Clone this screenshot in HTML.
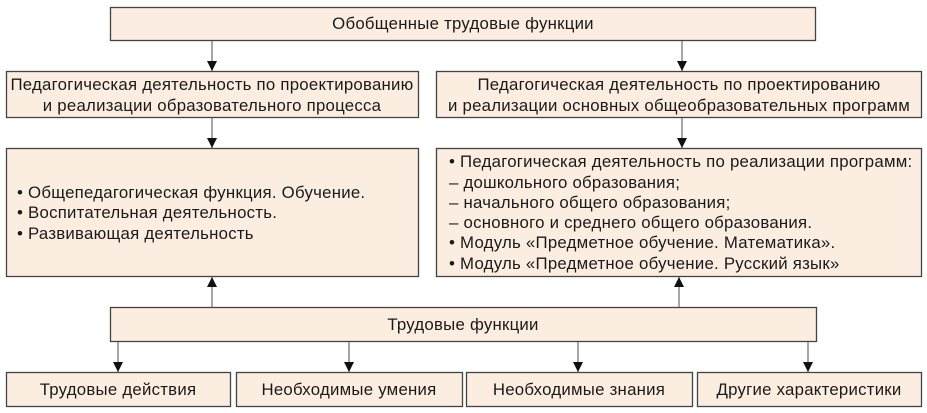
<!DOCTYPE html>
<html><head><meta charset="utf-8"><style>
html,body{margin:0;padding:0;background:#fff;}
svg{display:block;}
text{font-family:"Liberation Sans",sans-serif;font-size:16.8px;letter-spacing:0.25px;fill:#1a1a1a;}
</style></head><body>
<svg width="927" height="413" viewBox="0 0 927 413" xmlns="http://www.w3.org/2000/svg">
<defs><marker id="a" viewBox="0 0 10 10" refX="10" refY="5" markerWidth="10" markerHeight="10" markerUnits="userSpaceOnUse" orient="auto"><path d="M0,0 L10,5 L0,10 z" fill="#111"/></marker></defs>
<g fill="#fbeee0" stroke="#444" stroke-width="1.3">
<rect x="110.5" y="7.5" width="705" height="33"/>
<rect x="6.5" y="71.5" width="412" height="46"/>
<rect x="436.5" y="71.5" width="485" height="46"/>
<rect x="6.5" y="148.5" width="412" height="128"/>
<rect x="436.5" y="148.5" width="485" height="128"/>
<rect x="110.5" y="307.5" width="706" height="34"/>
<rect x="6.5" y="372.5" width="224" height="34"/>
<rect x="236.5" y="372.5" width="226" height="34"/>
<rect x="466.5" y="372.5" width="226" height="34"/>
<rect x="697.5" y="372.5" width="224" height="34"/>
</g>
<g stroke="#777" stroke-width="1.3" marker-end="url(#a)">
<line x1="212" y1="41" x2="212" y2="71"/>
<line x1="682" y1="41" x2="682" y2="71"/>
<line x1="212" y1="118" x2="212" y2="148"/>
<line x1="682" y1="118" x2="682" y2="148"/>
<line x1="212" y1="307" x2="212" y2="277"/>
<line x1="679" y1="307" x2="679" y2="277"/>
<line x1="118" y1="342" x2="118" y2="372"/>
<line x1="349" y1="342" x2="349" y2="372"/>
<line x1="578" y1="342" x2="578" y2="372"/>
<line x1="808" y1="342" x2="808" y2="372"/>
</g>
<g text-anchor="middle">
<text x="463" y="29">Обобщенные трудовые функции</text>
<text x="212" y="90">Педагогическая деятельность по проектированию</text>
<text x="212" y="111">и реализации образовательного процесса</text>
<text x="679" y="90">Педагогическая деятельность по проектированию</text>
<text x="679" y="111">и реализации основных общеобразовательных программ</text>
<text x="463" y="330">Трудовые функции</text>
<text x="118" y="395">Трудовые действия</text>
<text x="349" y="395">Необходимые умения</text>
<text x="579" y="395">Необходимые знания</text>
<text x="809" y="395">Другие характеристики</text>
</g>
<text x="17" y="198">• Общепедагогическая функция. Обучение.</text>
<text x="17" y="218">• Воспитательная деятельность.</text>
<text x="17" y="239">• Развивающая деятельность</text>
<text x="449" y="167">• Педагогическая деятельность по реализации программ:</text>
<text x="449" y="188">– дошкольного образования;</text>
<text x="449" y="208">– начального общего образования;</text>
<text x="449" y="228">– основного и среднего общего образования.</text>
<text x="449" y="248">• Модуль «Предметное обучение. Математика».</text>
<text x="449" y="269">• Модуль «Предметное обучение. Русский язык»</text>
</svg>
</body></html>
